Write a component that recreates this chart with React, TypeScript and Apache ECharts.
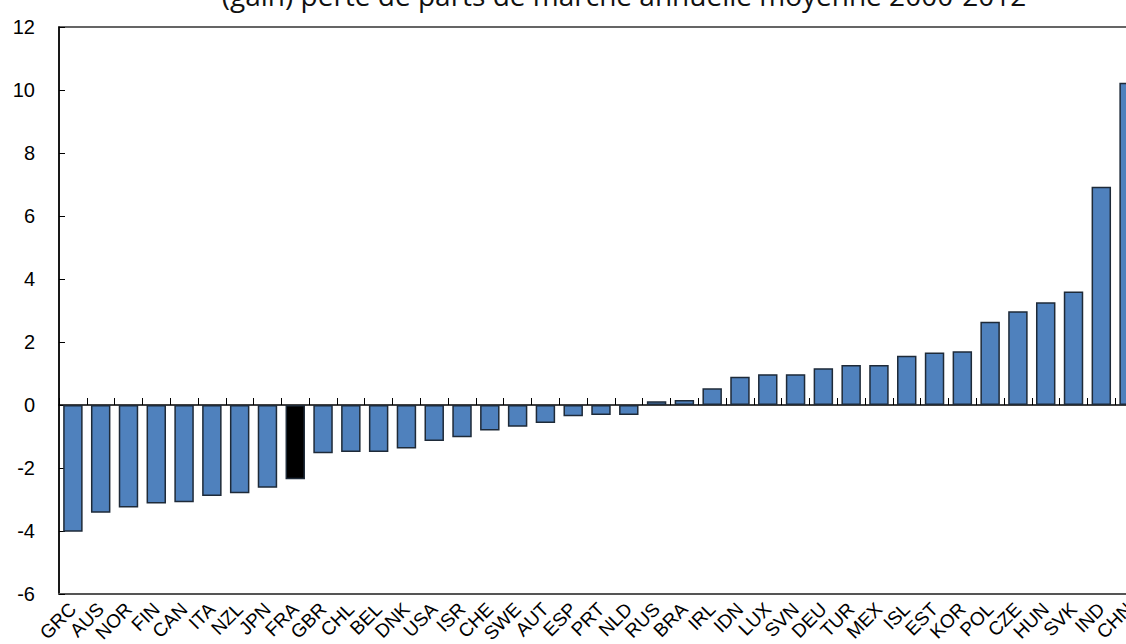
import React, { useEffect, useRef } from "react";
import * as echarts from "echarts";

const titleText = "(gain) perte de parts de marché annuelle moyenne 2000-2012";

const countries = [
  "GRC", "AUS", "NOR", "FIN", "CAN", "ITA", "NZL", "JPN", "FRA", "GBR",
  "CHL", "BEL", "DNK", "USA", "ISR", "CHE", "SWE", "AUT", "ESP", "PRT",
  "NLD", "RUS", "BRA", "IRL", "IDN", "LUX", "SVN", "DEU", "TUR", "MEX",
  "ISL", "EST", "KOR", "POL", "CZE", "HUN", "SVK", "IND", "CHN",
];

const values = [
  -4.02, -3.42, -3.25, -3.13, -3.09, -2.89, -2.8, -2.63, -2.36, -1.53,
  -1.49, -1.49, -1.38, -1.14, -1.02, -0.81, -0.69, -0.57, -0.36, -0.32,
  -0.32, 0.12, 0.16, 0.53, 0.9, 0.98, 0.98, 1.17, 1.27, 1.27,
  1.56, 1.67, 1.71, 2.64, 2.98, 3.26, 3.6, 6.93, 10.23,
];

const highlighted = "FRA";

const yMin = -6;
const yMax = 12;
const yStep = 2;

export default function App() {
  const ref = useRef<HTMLDivElement>(null);

  useEffect(() => {
    if (!ref.current) return;
    const chart = echarts.init(ref.current, null, { renderer: "svg" });
    const blue = "#4f81bd";
    const edge = "#1e2a38";
    chart.setOption({
      animation: false,
      backgroundColor: "#ffffff",
      graphic: [
        {
          type: "text",
          x: 624,
          y: -5,
          style: {
            text: titleText,
            fontFamily: "Open Sans",
            fontSize: 28,
            fill: "#111111",
            align: "center",
            verticalAlign: "middle",
          },
        },
      ],
      grid: {
        left: 59,
        top: 27,
        width: 1084,
        height: 567,
        show: true,
        borderColor: "#333333",
        borderWidth: 1.5,
        containLabel: false,
        outerBoundsMode: "none",
      },
      xAxis: [
        {
          type: "category",
          data: countries,
          position: "bottom",
          axisLine: { onZero: false, lineStyle: { color: "#555555", width: 2 } },
          axisTick: { show: false },
          axisLabel: {
            interval: 0,
            rotate: 45,
            margin: 12,
            fontFamily: "Liberation Sans",
            fontSize: 19,
            color: "#000000",
          },
          splitLine: { show: false },
        },
        {
          type: "category",
          data: countries,
          position: "bottom",
          axisLine: { onZero: true, lineStyle: { color: "#000000", width: 1.5 } },
          axisTick: {
            show: true,
            inside: true,
            length: 7,
            interval: 0,
            lineStyle: { color: "#000000", width: 1 },
          },
          axisLabel: { show: false },
          splitLine: { show: false },
        },
      ],
      yAxis: {
        type: "value",
        min: yMin,
        max: yMax,
        interval: yStep,
        axisLine: { show: true, lineStyle: { color: "#000000", width: 1.5 } },
        axisTick: { show: true, inside: true, length: 6, lineStyle: { color: "#000000" } },
        axisLabel: {
          margin: 24,
          fontFamily: "Liberation Sans",
          fontSize: 20,
          color: "#000000",
        },
        splitLine: { show: false },
      },
      series: [
        {
          type: "bar",
          xAxisIndex: 0,
          barCategoryGap: "30%",
          data: values.map((v, i) => ({
            value: v,
            itemStyle: {
              color: countries[i] === highlighted ? "#000000" : blue,
            },
          })),
          itemStyle: { borderColor: edge, borderWidth: 1.5 },
        },
      ],
    });
    return () => chart.dispose();
  }, []);

  return (
    <div
      ref={ref}
      style={{ position: "absolute", left: 0, top: 0, width: 1126, height: 644 }}
    />
  );
}
